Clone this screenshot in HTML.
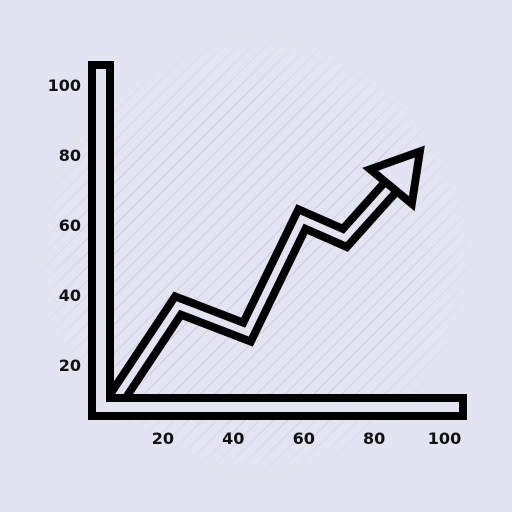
<!DOCTYPE html>
<html><head><meta charset="utf-8"><style>
html,body{margin:0;padding:0;background:#e2e4f1;}
svg{display:block;}
text{font-family:"DejaVu Sans","Liberation Sans",sans-serif;font-weight:bold;font-size:16px;fill:#111;}
</style></head><body>
<svg id="chart" width="512" height="512" viewBox="0 0 512 512">
<defs>
<pattern id="hatch" width="10" height="10" patternUnits="userSpaceOnUse" patternTransform="rotate(45)">
<rect width="10" height="10" fill="#e2e4f1"/>
<line x1="0" y1="0" x2="0" y2="10" stroke="#c9ccda" stroke-width="1.8"/>
</pattern>
<radialGradient id="fade"><stop offset="0.7" stop-color="#fff"/><stop offset="1" stop-color="#000"/></radialGradient>
<mask id="m"><rect x="30" y="30" width="452" height="452" fill="url(#fade)"/></mask>
</defs>
<rect width="512" height="512" fill="#e2e4f1"/>
<rect x="30" y="30" width="452" height="452" fill="url(#hatch)" mask="url(#m)"/>
<g id="plot"></g>
</svg>
<script>
const xTicks=[20,40,60,80,100];
const yTicks=[20,40,60,80,100];
const xVals=[6.5,24.3,43.9,59.5,71.7,84.8];
const yVals=[10,37,29.4,61.7,56.3,71];
const tipX=[93];
const tipY=[81];
const sx=v=>92.5+v*3.52;
const sy=v=>435-v*3.5;
const NS="http://www.w3.org/2000/svg";
const g=document.getElementById('plot');
function mk(t,a){const e=document.createElementNS(NS,t);for(const k in a)e.setAttribute(k,a[k]);g.appendChild(e);return e;}
const pts=xVals.map((x,i)=>sx(x)+','+sy(yVals[i])).join(' ');
let e=mk('polyline',{points:pts,fill:'none',stroke:'#000','stroke-width':23,'stroke-linejoin':'miter'});


e=mk('polyline',{points:pts,fill:'none',stroke:'#e2e4f1','stroke-width':7,'stroke-linejoin':'miter'});


const bx=sx(xVals[xVals.length-1]),by=sy(yVals[yVals.length-1]);
const tx=sx(tipX[0]),ty=sy(tipY[0]);
let dx=tx-bx,dy=ty-by;const L=Math.hypot(dx,dy);dx/=L;dy/=L;
const px=-dy*27,py=dx*27;
e=mk('polygon',{points:`${bx+px},${by+py} ${tx},${ty} ${bx-px},${by-py}`,fill:'#e2e4f1',stroke:'#000','stroke-width':8,'stroke-linejoin':'miter'});


e=mk('path',{d:'M92,65 H110 V398 H463 V416 H92 Z',fill:'#e2e4f1',stroke:'#000','stroke-width':8});


xTicks.forEach(v=>{const t=mk('text',{x:sx(v),y:444,'text-anchor':'middle'});t.textContent=v;

});
yTicks.forEach(v=>{const t=mk('text',{x:81,y:sy(v)+6,'text-anchor':'end'});t.textContent=v;

});
</script>
</body></html>
